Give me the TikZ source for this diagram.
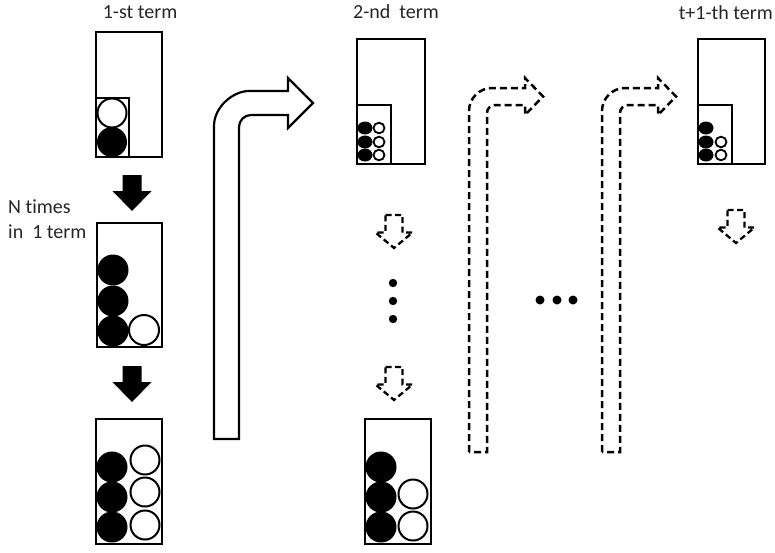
\documentclass[tikz,border=0pt]{standalone}
\usepackage{fontspec}
\setmainfont{Carlito}[Ligatures=NoCommon]
\begin{document}
\begin{tikzpicture}[x=1pt,y=-1pt,
  box/.style={draw=black,line width=2.5pt},
  blk/.style={fill=black},
  wht/.style={draw=black,fill=white,line width=2pt},
  lbl/.style={font=\fontsize{20}{24}\selectfont,inner sep=0pt,text=black!85},
  dsh/.style={draw=black,line width=2.5pt,dash pattern=on 7pt off 4pt},
  blkarrow/.pic={\fill[black] (-9.5,0) -- (9.5,0) -- (9.5,16) -- (19.5,16) -- (0,36) -- (-19.5,16) -- (-9.5,16) -- cycle;},
  dasharrow/.pic={\draw[dsh,line width=2.3pt,dash pattern=on 6pt off 3.5pt] (-8.5,0) -- (8.5,0) -- (8.5,17.5) -- (18.5,17.5) -- (0,33) -- (-18.5,17.5) -- (-8.5,17.5) -- cycle;},
  bentdash/.pic={\draw[dsh] (0,0) -- (0,-341) .. controls (0,-353.7) and (10.3,-364) .. (23,-364) -- (56,-364) -- (56,-374) -- (74,-355.5) -- (56,-337) -- (56,-347) -- (26,-347) .. controls (21.6,-347) and (18,-343.4) .. (18,-339) -- (18,0) -- cycle;}
]
\useasboundingbox (0,0) rectangle (775,552);

% labels
\node[lbl] (t1) at (140,12) {1-st term};
\node[lbl] (t2) at (396,12) {2-nd\ \ term};
\node[lbl,anchor=east] (t3) at (773,13) {t+1-th term};
\node[lbl,anchor=west] (n1) at (8,207) {N times};
\node[lbl,anchor=west] (n2) at (8,232) {in\ \ 1 term};

% column 1, box 1
\draw[box] (96,32) rectangle (162,157);
\draw[box] (96,98) rectangle (129,157);
\draw[wht] (112,113) circle (14.5);
\fill[blk] (112,142) circle (15);

\pic at (132,175) {blkarrow};

% box 2
\draw[box] (97,223) rectangle (162,347);
\fill[blk] (113,270) circle (15.5);
\fill[blk] (113,301) circle (15.5);
\fill[blk] (113,331) circle (15.5);
\draw[wht] (144,330) circle (15);

\pic at (132,366) {blkarrow};

% box 3
\draw[box] (96,419) rectangle (162,544);
\fill[blk] (112,467) circle (15.5);
\fill[blk] (112,497) circle (15.5);
\fill[blk] (112,527) circle (15.5);
\draw[wht] (145,460) circle (14.5);
\draw[wht] (145,492) circle (14.5);
\draw[wht] (145,525) circle (14.5);

% solid bent arrow
\draw[line width=2.2pt,line join=miter] (214,439) -- (214,126) .. controls (214,106.7) and (233.3,91) .. (249,91) -- (288,91) -- (288,78) -- (313,103) -- (288,128) -- (288,115) -- (251,115) .. controls (244.4,115) and (239,120.4) .. (239,127) -- (239,439) -- cycle;

% column 2 top box
\draw[box] (357,39) rectangle (425,164);
\draw[box] (357,105) rectangle (391,164);
\foreach \yy in {128,142,155} {
  \fill[blk] (365,\yy) ellipse (7.5 and 6.5);
  \draw[wht,line width=1.8pt] (379,\yy) ellipse (5.5 and 5.3);
}

\pic at (394,215) {dasharrow};
\fill (393,283) circle (4.2);
\fill (393,301) circle (4.2);
\fill (393,319) circle (4.2);
\pic at (394,367) {dasharrow};

% column 2 bottom box
\draw[box] (365,419) rectangle (431,544);
\fill[blk] (381,467) circle (15.5);
\fill[blk] (381,497) circle (15.5);
\fill[blk] (381,527) circle (15.5);
\draw[wht] (413,494) circle (14.5);
\draw[wht] (413,526) circle (14.5);

% dashed bent arrows
\pic at (469,452) {bentdash};
\pic at (602,452) {bentdash};

% horizontal dots
\fill (540,300) circle (4.5);
\fill (557,300) circle (4.5);
\fill (573,300) circle (4.5);

% right box
\draw[box] (698,39) rectangle (765,164);
\draw[box] (698,105) rectangle (732,164);
\fill[blk] (706,128) ellipse (7.5 and 6.5);
\foreach \yy in {142,155} {
  \fill[blk] (706,\yy) ellipse (7.5 and 6.5);
  \draw[wht,line width=1.8pt] (721,\yy) ellipse (5.5 and 5.3);
}
\pic at (736,210) {dasharrow};
\end{tikzpicture}
\end{document}
